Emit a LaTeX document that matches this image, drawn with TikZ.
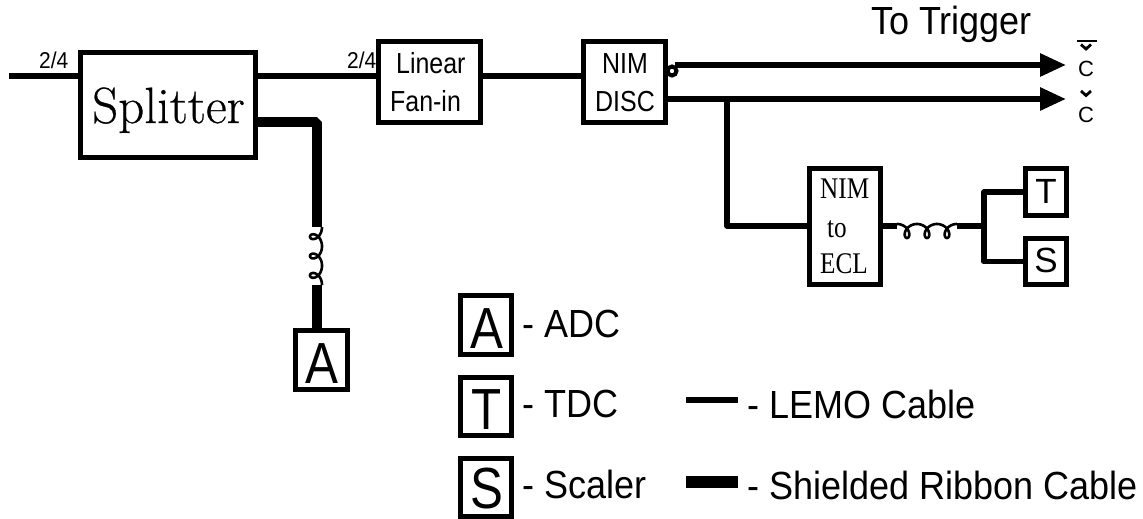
\documentclass[tikz,border=0pt]{standalone}
\usepackage{graphicx}
\usepackage{fontspec}
\setmainfont{Liberation Sans}
\newfontfamily\timesf{Liberation Serif}
\newfontfamily\lmf[FakeBold=0.5]{Latin Modern Roman}
\usetikzlibrary{arrows.meta}
\tikzset{
  x=1pt,y=-1pt,
  lemo/.style={line width=5.8pt,line join=round,line cap=butt},
  ribbon/.style={line width=10pt,line join=bevel,line cap=butt},
  coilwire/.style={line width=2.6pt,line join=round},
  boxn/.style={draw,line width=5.4pt,rectangle,inner sep=0pt,fill=white},
  txt/.style={inner sep=0pt,anchor=base west},
  ctr/.style={inner sep=0pt,anchor=base},
  big/.style={font=\fontsize{36}{36}\selectfont},
  mid/.style={font=\fontsize{29}{29}\selectfont},
  tip/.style={-{Triangle[length=26pt,width=22pt]}}
}
\newcommand{\narrow}[1]{\scalebox{.86}[1]{#1}}
\newcommand{\tallen}[1]{\scalebox{1}[1.09]{#1}}
\newcommand{\tall}[1]{\scalebox{.85}[1]{\fontsize{58}{58}\selectfont #1}}
\begin{document}
\begin{tikzpicture}
\useasboundingbox (0,0) rectangle (1143,519);
% free ends and routing points
\coordinate (in) at (9,76);
\coordinate (tipa) at (1066,65);
\coordinate (tipb) at (1066,99);
\coordinate (tapb) at (727,99);
\coordinate (rib) at (317,122);
\coordinate (ribb) at (317,227);
\coordinate (ribc) at (317,285);
\coordinate (taplow) at (727,226);
\coordinate (coila) at (897,226);
\coordinate (coilb) at (957,226);
\coordinate (fork) at (984,226);
% boxes
\node[boxn,minimum width=174.5pt,minimum height=104.5pt] (split) at (168,105) {};
\node[boxn,minimum width=102pt,minimum height=81pt] (fan) at (429.5,82) {};
\node[boxn,minimum width=82pt,minimum height=81pt] (disc) at (624.5,82) {};
\node[boxn,minimum width=71pt,minimum height=116pt] (ecl) at (845,226.5) {};
\node[boxn,minimum width=41pt,minimum height=47pt] (t) at (1046,192) {};
\node[boxn,minimum width=41pt,minimum height=46pt] (s) at (1046,261.5) {};
\node[boxn,minimum width=52pt,minimum height=59pt] (a) at (321.5,360) {};
\node[boxn,minimum width=50.6pt,minimum height=58.6pt] (la) at (486,325) {};
\node[boxn,minimum width=50.6pt,minimum height=58pt] (lt) at (486,406.5) {};
\node[boxn,minimum width=50.6pt,minimum height=58pt] (ls) at (486,487.5) {};
% inverted output bubble
\node[draw,circle,line width=4pt,minimum size=9pt,inner sep=0pt,fill=white] (inv) at (672,71) {};
\coordinate (outa) at (675,65);
% connectors
\draw[lemo] (in) -- (split.west |- in);
\draw[lemo] (split.east |- in) -- (fan.west |- in);
\draw[lemo] (fan.east |- in) -- (disc.west |- in);
\draw[lemo,tip] (outa) -- (tipa);
\draw[lemo,tip] (disc.east |- tipb) -- (tipb);
\draw[lemo] (tapb) -- (taplow) -- (ecl.west |- taplow);
\draw[lemo] (ecl.east |- coila) -- (coila);
\draw[lemo] (coilb) -- (fork);
\draw[lemo] (t.west) -- (fork |- t.west) -- (fork |- s.west) -- (s.west);
\draw[ribbon] (split.east |- rib) -- (rib) -- (ribb);
\draw[ribbon] (ribc) -- (a.north -| ribc);
% coils
\draw[coilwire] plot[domain=pi:7*pi,samples=200,smooth,variable=\t]
  ({897+3.18*(\t-pi)-6.5*sin(\t r)},{224+7*(1+cos(\t r))});
\draw[coilwire] plot[domain=pi:7*pi,samples=200,smooth,variable=\t]
  ({322-6*(1+cos(\t r))},{227+3.08*(\t-pi)-6.5*sin(\t r)});
% labels
\node[txt,font=\fontsize{21}{21}\selectfont] (lab24a) at (39,68) {\tallen{2/4}};
\node[txt,font=\fontsize{21}{21}\selectfont] (lab24b) at (347,68) {\tallen{2/4}};
\node[txt,font=\lmf\fontsize{51}{51}\selectfont] (tsplit) at (92,123) {Splitter};
\node[txt,mid] (tlin) at (396,74) {\narrow{Linear}};
\node[txt,mid] (tfan) at (390,111) {\narrow{Fan-in}};
\node[txt,mid] (tnim) at (602,74) {\narrow{NIM}};
\node[txt,mid] (tdisc) at (595,111) {\narrow{DISC}};
\node[txt,font=\timesf\fontsize{30}{30}\selectfont] (tn) at (820,198) {\scalebox{.84}[1]{NIM}};
\node[txt,font=\timesf\fontsize{30}{30}\selectfont] (tto) at (827,237) {\scalebox{.84}[1]{to}};
\node[txt,font=\timesf\fontsize{30}{30}\selectfont] (te) at (820,273) {\scalebox{.84}[1]{ECL}};
\node[ctr,font=\fontsize{35}{35}\selectfont] at (1046,203) (tt) {T};
\node[ctr,font=\fontsize{35}{35}\selectfont] at (1046,272) (ts) {S};
\node[ctr] (ta) at (321.5,383) {\tall{A}};
\node[ctr] (tla) at (487,348) {\tall{A}};
\node[ctr] (tlt) at (487,429) {\tall{T}};
\node[ctr] (tls) at (487,508) {\tall{S}};
\node[txt,big] (trig) at (871,35) {\tallen{To Trigger}};
\node[txt,big] (adc) at (522,337) {\tallen{- ADC}};
\node[txt,big] (tdc) at (522,417) {\tallen{- TDC}};
\node[txt,big] (scl) at (522,498) {\tallen{- Scaler}};
\node[txt,big] (lemo) at (747,418) {\tallen{- LEMO Cable}};
\node[txt,big] (shld) at (747,499) {\tallen{- Shielded Ribbon Cable}};
\coordinate (lega) at (686,400);
\coordinate (legb) at (738,400);
\coordinate (legc) at (686,482);
\coordinate (legd) at (738,482);
\draw[lemo,line width=6.5pt] (lega) -- (legb);
\draw[ribbon,line width=12.5pt] (legc) -- (legd);
% output labels
\node[ctr,font=\fontsize{22}{22}\selectfont] (ca) at (1086,77) {C};
\node[ctr,font=\fontsize{22}{22}\selectfont] (cb) at (1086,122) {C};
\draw[line width=2.8pt] (1077,41) -- (1097,41);
\draw[line width=2.8pt] (1081,44.5) -- (1086,49) -- (1091,44.5);
\draw[line width=2.8pt] (1081,91) -- (1086,95.5) -- (1091,91);
\end{tikzpicture}
\end{document}
